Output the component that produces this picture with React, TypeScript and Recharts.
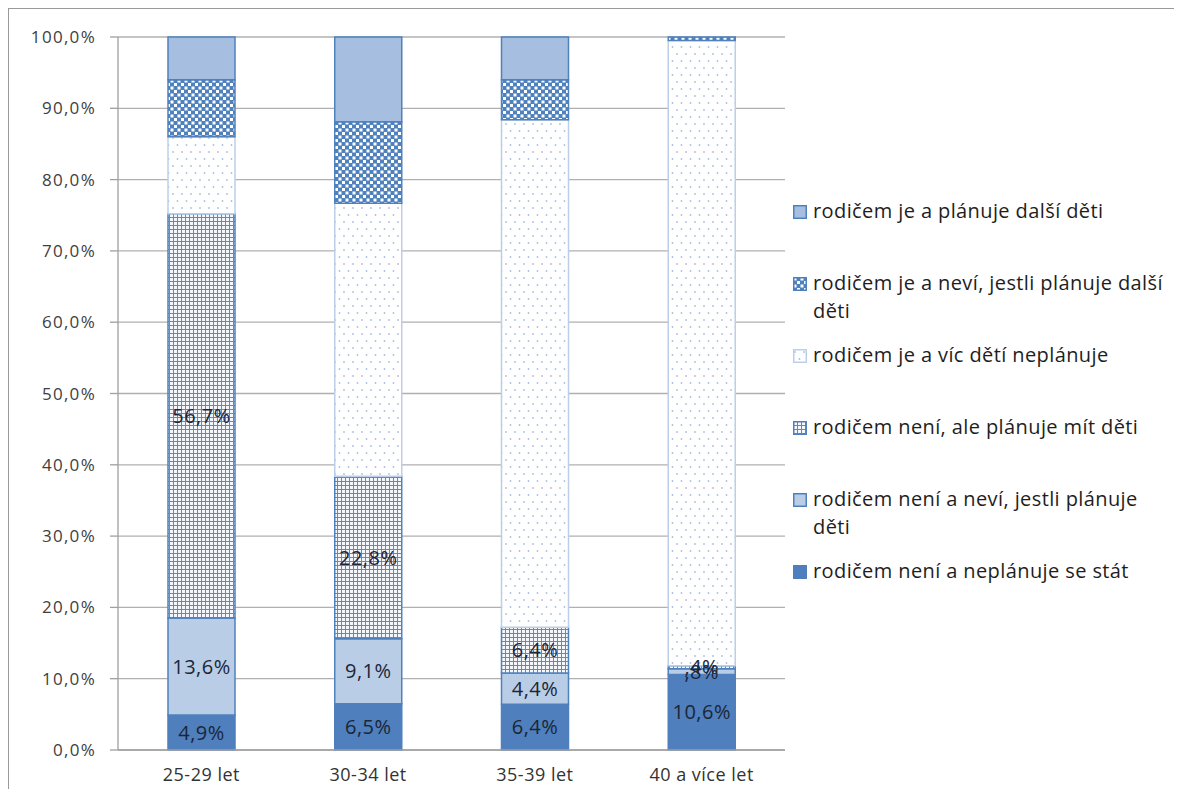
import { BarChart, Bar, XAxis, YAxis, CartesianGrid, LabelList } from "recharts";

const categories = ["25-29 let", "30-34 let", "35-39 let", "40 a více let"];
const neplanujeSeStat = [4.9, 6.5, 6.4, 10.6];
const neniNevi = [13.6, 9.1, 4.4, 0.8];
const neniPlanuje = [56.7, 22.8, 6.4, 0.4];
const jeVicNeplanuje = [10.8, 38.3, 71.2, 87.7];
const jeNevi = [8.0, 11.4, 5.6, 0.5];
const jePlanuje = [6.0, 11.9, 6.0, 0.0];
const yTicks = [0, 10, 20, 30, 40, 50, 60, 70, 80, 90, 100];

const data = categories.map((name, i) => ({
  name,
  a: neplanujeSeStat[i],
  b: neniNevi[i],
  c: neniPlanuje[i],
  d: jeVicNeplanuje[i],
  e: jeNevi[i],
  f: jePlanuje[i],
}));

const series = [
  { key: "a", name: "rodičem není a neplánuje se stát", fill: "#4f7fbc", stroke: "#4f7fbc", label: true },
  { key: "b", name: "rodičem není a neví, jestli plánuje děti", fill: "#b9cde6", stroke: "#4f81bd", label: true },
  { key: "c", name: "rodičem není, ale plánuje mít děti", fill: "url(#pGrid)", stroke: "#4f81bd", label: true },
  { key: "d", name: "rodičem je a víc dětí neplánuje", fill: "url(#pDots)", stroke: "#bccfe8", label: false },
  { key: "e", name: "rodičem je a neví, jestli plánuje další děti", fill: "url(#pCheck)", stroke: "#4f81bd", label: false },
  { key: "f", name: "rodičem je a plánuje další děti", fill: "#a6bfe1", stroke: "#4f81bd", label: false },
];

const fmtTick = (v: number) => v.toFixed(1).replace(".", ",") + "%";
const fmtLabel = (v: any) => {
  const s = Number(v).toFixed(1).replace(".", ",");
  return (s.startsWith("0,") ? s.slice(1) : s) + "%";
};

const font = "'Open Sans', sans-serif";

function PatternDefs() {
  return (
    <defs>
      <pattern id="pGrid" width="4" height="4" patternUnits="userSpaceOnUse">
        <rect width="4" height="4" fill="#f4f7fc" />
        <rect width="4" height="1" fill="#5d8ac6" />
        <rect width="1" height="4" fill="#5d8ac6" />
      </pattern>
      <pattern id="pDots" width="9" height="14" patternUnits="userSpaceOnUse">
        <rect width="9" height="14" fill="#ffffff" />
        <circle cx="2" cy="3" r="0.9" fill="#a9c0e0" />
        <circle cx="6.5" cy="10" r="0.9" fill="#a9c0e0" />
      </pattern>
      <pattern id="pCheck" width="7" height="7" patternUnits="userSpaceOnUse">
        <rect width="7" height="7" fill="#4f81bd" />
        <rect x="0.5" y="0.5" width="3" height="3" fill="#ffffff" />
        <rect x="4" y="4" width="3" height="3" fill="#ffffff" />
      </pattern>
    </defs>
  );
}

function LegendBox() {
  const items = [...series].reverse();
  return (
    <div
      style={{
        position: "absolute",
        left: 784,
        top: 188,
        fontFamily: font,
        fontSize: 20,
        color: "#1e1e1e",
      }}
    >
      {items.map((s) => (
        <div key={s.key} style={{ height: 72, display: "flex", alignItems: "flex-start" }}>
          <svg width={14} height={14} style={{ marginTop: 8, marginRight: 6, flex: "none" }}>
            <rect x={0.75} y={0.75} width={12.5} height={12.5} fill={s.fill} stroke={s.stroke} strokeWidth={1.5} />
          </svg>
          <div style={{ width: 360, lineHeight: "28px", letterSpacing: 0.4 }}>{s.name}</div>
        </div>
      ))}
    </div>
  );
}

export default function App() {
  return (
    <div
      style={{
        position: "relative",
        width: 1174,
        height: 789,
        marginBottom: -8,
        borderTop: "1px solid #9a9a9a",
        borderLeft: "1px solid #9a9a9a",
        borderBottom: "1px solid #9a9a9a",
        boxSizing: "border-box",
        background: "#ffffff",
      }}
    >
      <BarChart
        width={1170}
        height={780}
        data={data}
        barSize={67}
        margin={{ top: 28, right: 394, left: 0, bottom: 9 }}
      >
        <PatternDefs />
        <CartesianGrid vertical={false} stroke="#b0b0b0" strokeWidth={1.3} />
        <XAxis
          dataKey="name"
          height={30}
          interval={0}
          tickLine={false}
          axisLine={{ stroke: "#a0a0a0", strokeWidth: 1.3 }}
          tick={{ fill: "#333333", fontSize: 18, fontFamily: font, letterSpacing: 0.5 }}
          tickMargin={12}
        />
        <YAxis
          width={109}
          domain={[0, 100]}
          ticks={yTicks}
          tickFormatter={fmtTick}
          tickSize={8}
          tickMargin={14}
          interval={0}
          axisLine={{ stroke: "#a0a0a0", strokeWidth: 1.3 }}
          tickLine={{ stroke: "#a0a0a0", strokeWidth: 1.3 }}
          tick={{ fill: "#404040", fontSize: 17, fontFamily: font, letterSpacing: 1.3 }}
        />
        {series.map((s) => (
          <Bar
            key={s.key}
            dataKey={s.key}
            name={s.name}
            stackId="s"
            fill={s.fill}
            stroke={s.stroke}
            strokeWidth={1.5}
            isAnimationActive={false}
          >
            {s.label && (
              <LabelList
                dataKey={s.key}
                position="center"
                formatter={fmtLabel}
                fill="#1b2638"
                fontSize={20}
                fontFamily={font}
                letterSpacing={0.5}
              />
            )}
          </Bar>
        ))}
      </BarChart>
      <LegendBox />
    </div>
  );
}
